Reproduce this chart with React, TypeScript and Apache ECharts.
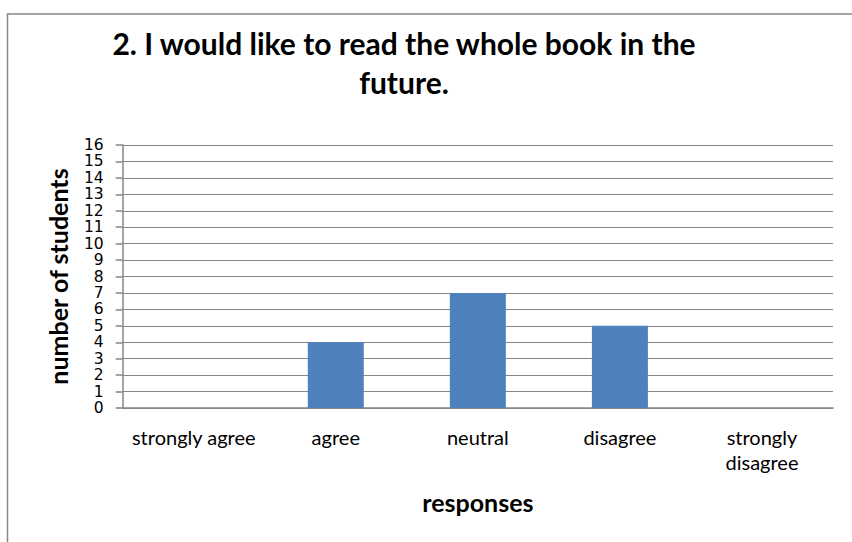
import React, { useEffect, useRef } from "react";
import * as echarts from "echarts";

const categories = ["strongly agree", "agree", "neutral", "disagree", "strongly disagree"];
const studentCounts = [0, 4, 7, 5, 0];
const titleLines = ["2. I would like to read the whole book in the", "future."];
const yAxisTitle = "number of students";
const xAxisTitle = "responses";

const FONT = "Lato, 'Noto Sans', sans-serif";
const NUM_FONT = "'DejaVu Sans', sans-serif";
const GRAY = "#868686";

export default function App() {
  const ref = useRef<HTMLDivElement>(null);
  useEffect(() => {
    document.body.style.margin = "0";
    const chart = echarts.init(ref.current!, undefined, { renderer: "svg" });
    chart.setOption({
      animation: false,
      backgroundColor: "#ffffff",
      textStyle: { fontFamily: FONT },
      graphic: [
        {
          type: "rect",
          shape: { x: 7.5, y: 14, width: 900, height: 600 },
          style: { fill: "none", stroke: GRAY, lineWidth: 1.5 },
          silent: true,
        },
        {
          type: "text",
          x: 404,
          y: 43,
          style: {
            text: titleLines[0],
            font: `bold 30px ${FONT}`,
            fill: "#000",
            align: "center",
            verticalAlign: "middle",
          },
        },
        {
          type: "text",
          x: 404,
          y: 82,
          style: {
            text: titleLines[1],
            font: `bold 30px ${FONT}`,
            fill: "#000",
            align: "center",
            verticalAlign: "middle",
          },
        },
      ],
      grid: { left: 122.7, right: 19, top: 145, bottom: 134, containLabel: false },
      xAxis: {
        type: "category",
        data: categories,
        name: xAxisTitle,
        nameLocation: "middle",
        nameGap: 81,
        nameTextStyle: { fontFamily: FONT, fontWeight: "bold", fontSize: 25, color: "#000" },
        axisLine: { show: true, lineStyle: { color: GRAY, width: 1.5 } },
        axisTick: { show: false },
        axisLabel: {
          interval: 0,
          margin: 16.5,
          fontFamily: FONT,
          fontSize: 20,
          lineHeight: 25,
          color: "#000",
          formatter: (v: string) => (v === "strongly disagree" ? "strongly\ndisagree" : v),
        },
        splitLine: { show: false },
      },
      yAxis: {
        type: "value",
        min: 0,
        max: 16,
        interval: 1,
        name: yAxisTitle,
        nameLocation: "middle",
        nameGap: 52,
        nameTextStyle: { fontFamily: FONT, fontWeight: "bold", fontSize: 25, color: "#000" },
        axisLine: { show: true, lineStyle: { color: GRAY, width: 1.5 } },
        axisTick: { show: true, length: 7, lineStyle: { color: GRAY, width: 1.5 } },
        axisLabel: { margin: 19, fontFamily: NUM_FONT, fontSize: 15.5, lineHeight: 16, color: "#000" },
        splitLine: { show: true, lineStyle: { color: GRAY, width: 1.2 } },
      },
      series: [
        {
          type: "bar",
          data: studentCounts,
          barWidth: 56,
          itemStyle: { color: "#4F81BD" },
        },
      ],
    });
    return () => chart.dispose();
  }, []);
  return <div ref={ref} style={{ width: 852, height: 542 }} />;
}
